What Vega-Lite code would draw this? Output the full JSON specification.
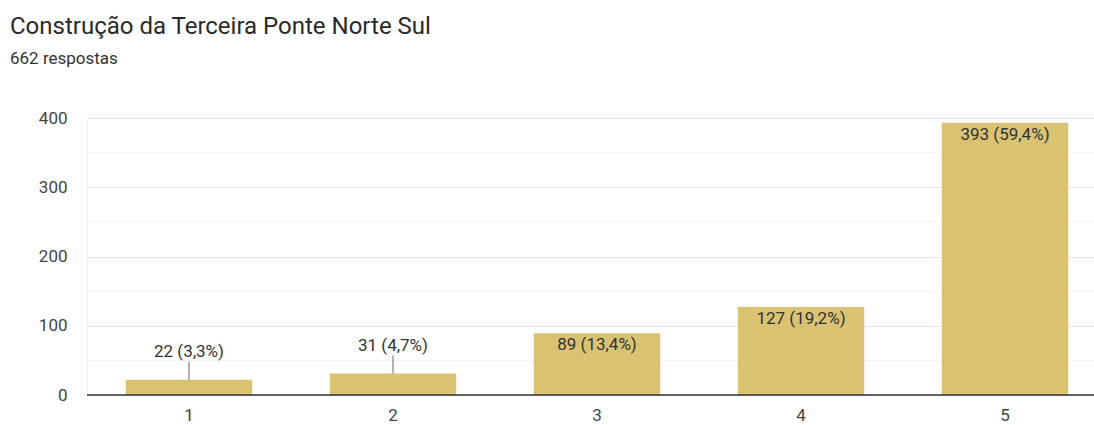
{
  "$schema": "https://vega.github.io/schema/vega-lite/v6.json",
  "width": 1020,
  "height": 277,
  "autosize": {"type": "none"},
  "padding": {"left": 87, "top": 118, "right": 0, "bottom": 30},
  "background": "white",
  "title": {
    "text": "Construção da Terceira Ponte Norte Sul",
    "subtitle": "662 respostas",
    "anchor": "start",
    "frame": "group",
    "dx": -77,
    "offset": 42,
    "font": "Roboto",
    "fontSize": 24,
    "fontWeight": "normal",
    "color": "#2a2a2a",
    "subtitleFont": "Roboto",
    "subtitleFontSize": 17,
    "subtitleColor": "#333333",
    "subtitlePadding": 12
  },
  "config": {
    "view": {"stroke": null},
    "font": "Roboto"
  },
  "data": {
    "values": [
      {"nota": "1", "count": 22, "label": "22 (3,3%)"},
      {"nota": "2", "count": 31, "label": "31 (4,7%)"},
      {"nota": "3", "count": 89, "label": "89 (13,4%)"},
      {"nota": "4", "count": 127, "label": "127 (19,2%)"},
      {"nota": "5", "count": 393, "label": "393 (59,4%)"}
    ]
  },
  "encoding": {
    "x": {
      "field": "nota",
      "type": "ordinal",
      "scale": {"paddingInner": 0.38, "paddingOuter": 0.19},
      "axis": {
        "title": null,
        "labelAngle": 0,
        "labelFontSize": 17,
        "labelColor": "#444444",
        "labelPadding": 12,
        "ticks": false,
        "domain": false,
        "grid": false
      }
    }
  },
  "layer": [
    {
      "mark": {"type": "rule", "color": "#f3f3f3", "strokeWidth": 1},
      "data": {"values": [{"v": 50}, {"v": 150}, {"v": 250}, {"v": 350}]},
      "encoding": {
        "x": null,
        "y": {"field": "v", "type": "quantitative", "scale": {"domain": [0, 400]}}
      }
    },
    {
      "mark": {"type": "bar", "color": "#d9c271"},
      "encoding": {
        "y": {
          "field": "count",
          "type": "quantitative",
          "scale": {"domain": [0, 400], "nice": false},
          "axis": {
            "title": null,
            "values": [0, 100, 200, 300, 400],
            "labelFontSize": 17,
            "labelColor": "#444444",
            "labelPadding": 20,
            "ticks": false,
            "domain": true,
            "domainColor": "#f0f0f0",
            "gridColor": "#e6e6e6",
            "gridWidth": 1
          }
        }
      }
    },
    {
      "mark": {"type": "rule", "color": "#333333", "strokeWidth": 1.5},
      "data": {"values": [{"v": 0}]},
      "encoding": {
        "x": null,
        "y": {"field": "v", "type": "quantitative"}
      }
    },
    {
      "transform": [{"filter": "datum.count < 50"}],
      "mark": {"type": "rule", "color": "#666666", "strokeWidth": 1, "y2Offset": -18},
      "encoding": {
        "y": {"field": "count", "type": "quantitative"},
        "y2": {"field": "count"}
      }
    },
    {
      "transform": [{"filter": "datum.count < 50"}],
      "mark": {"type": "text", "dy": -28, "fontSize": 17, "color": "#333333", "baseline": "middle"},
      "encoding": {
        "y": {"field": "count", "type": "quantitative"},
        "text": {"field": "label"}
      }
    },
    {
      "transform": [{"filter": "datum.count >= 50"}],
      "mark": {"type": "text", "dy": 12, "fontSize": 17, "color": "#333333", "baseline": "middle"},
      "encoding": {
        "y": {"field": "count", "type": "quantitative"},
        "text": {"field": "label"}
      }
    }
  ]
}
